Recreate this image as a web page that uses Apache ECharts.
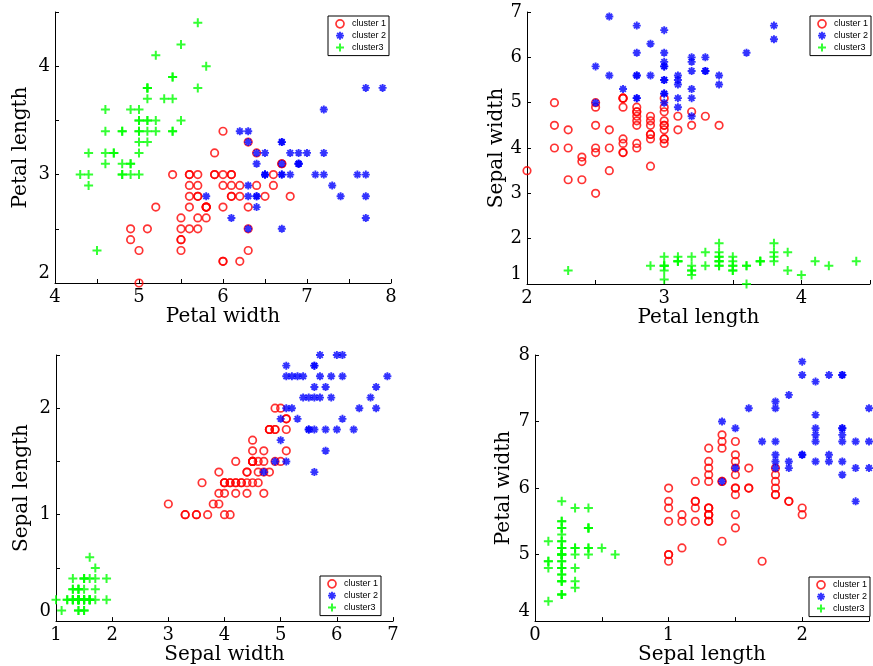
<!DOCTYPE html>
<html>
<head>
<meta charset="utf-8">
<script src="https://cdn.jsdelivr.net/npm/echarts@6/dist/echarts.min.js"></script>
<style>
  html, body { margin: 0; padding: 0; background: #fff; }
  #chart { width: 873px; height: 666px; }
</style>
</head>
<body>
<div id="chart"></div>
<script>
// Fisher iris measurements (150 samples, same row order in every array)
const sepalLength = [
  5.1,4.9,4.7,4.6,5.0,5.4,4.6,5.0,4.4,4.9,5.4,4.8,4.8,4.3,5.8,5.7,5.4,5.1,5.7,5.1,
  5.4,5.1,4.6,5.1,4.8,5.0,5.0,5.2,5.2,4.7,4.8,5.4,5.2,5.5,4.9,5.0,5.5,4.9,4.4,5.1,
  5.0,4.5,4.4,5.0,5.1,4.8,5.1,4.6,5.3,5.0,
  7.0,6.4,6.9,5.5,6.5,5.7,6.3,4.9,6.6,5.2,5.0,5.9,6.0,6.1,5.6,6.7,5.6,5.8,6.2,5.6,
  5.9,6.1,6.3,6.1,6.4,6.6,6.8,6.7,6.0,5.7,5.5,5.5,5.8,6.0,5.4,6.0,6.7,6.3,5.6,5.5,
  5.5,6.1,5.8,5.0,5.6,5.7,5.7,6.2,5.1,5.7,
  6.3,5.8,7.1,6.3,6.5,7.6,4.9,7.3,6.7,7.2,6.5,6.4,6.8,5.7,5.8,6.4,6.5,7.7,7.7,6.0,
  6.9,5.6,7.7,6.3,6.7,7.2,6.2,6.1,6.4,7.2,7.4,7.9,6.4,6.3,6.1,7.7,6.3,6.4,6.0,6.9,
  6.7,6.9,5.8,6.8,6.7,6.7,6.3,6.5,6.2,5.9
];
const sepalWidth = [
  3.5,3.0,3.2,3.1,3.6,3.9,3.4,3.4,2.9,3.1,3.7,3.4,3.0,3.0,4.0,4.4,3.9,3.5,3.8,3.8,
  3.4,3.7,3.6,3.3,3.4,3.0,3.4,3.5,3.4,3.2,3.1,3.4,4.1,4.2,3.1,3.2,3.5,3.6,3.0,3.4,
  3.5,2.3,3.2,3.5,3.8,3.0,3.8,3.2,3.7,3.3,
  3.2,3.2,3.1,2.3,2.8,2.8,3.3,2.4,2.9,2.7,2.0,3.0,2.2,2.9,2.9,3.1,3.0,2.7,2.2,2.5,
  3.2,2.8,2.5,2.8,2.9,3.0,2.8,3.0,2.9,2.6,2.4,2.4,2.7,2.7,3.0,3.4,3.1,2.3,3.0,2.5,
  2.6,3.0,2.6,2.3,2.7,3.0,2.9,2.9,2.5,2.8,
  3.3,2.7,3.0,2.9,3.0,3.0,2.5,2.9,2.5,3.6,3.2,2.7,3.0,2.5,2.8,3.2,3.0,3.8,2.6,2.2,
  3.2,2.8,2.8,2.7,3.3,3.2,2.8,3.0,2.8,3.0,2.8,3.8,2.8,2.8,2.6,3.0,3.4,3.1,3.0,3.1,
  3.1,3.1,2.7,3.2,3.3,3.0,2.5,3.0,3.4,3.0
];
const petalLength = [
  1.4,1.4,1.3,1.5,1.4,1.7,1.4,1.5,1.4,1.5,1.5,1.6,1.4,1.1,1.2,1.5,1.3,1.4,1.7,1.5,
  1.7,1.5,1.0,1.7,1.9,1.6,1.6,1.5,1.4,1.6,1.6,1.5,1.5,1.4,1.5,1.2,1.3,1.4,1.3,1.5,
  1.3,1.3,1.3,1.6,1.9,1.4,1.6,1.4,1.5,1.4,
  4.7,4.5,4.9,4.0,4.6,4.5,4.7,3.3,4.6,3.9,3.5,4.2,4.0,4.7,3.6,4.4,4.5,4.1,4.5,3.9,
  4.8,4.0,4.9,4.7,4.3,4.4,4.8,5.0,4.5,3.5,3.8,3.7,3.9,5.1,4.5,4.5,4.7,4.4,4.1,4.0,
  4.4,4.6,4.0,3.3,4.2,4.2,4.2,4.3,3.0,4.1,
  6.0,5.1,5.9,5.6,5.8,6.6,4.5,6.3,5.8,6.1,5.1,5.3,5.5,5.0,5.1,5.3,5.5,6.7,6.9,5.0,
  5.7,4.9,6.7,4.9,5.7,6.0,4.8,4.9,5.6,5.8,6.1,6.4,5.6,5.1,5.6,6.1,5.6,5.5,4.8,5.4,
  5.6,5.1,5.1,5.9,5.7,5.2,5.0,5.2,5.4,5.1
];
const petalWidth = [
  0.2,0.2,0.2,0.2,0.2,0.4,0.3,0.2,0.2,0.1,0.2,0.2,0.1,0.1,0.2,0.4,0.4,0.3,0.3,0.3,
  0.2,0.4,0.2,0.5,0.2,0.2,0.4,0.2,0.2,0.2,0.2,0.4,0.1,0.2,0.2,0.2,0.2,0.1,0.2,0.2,
  0.3,0.3,0.2,0.6,0.4,0.3,0.2,0.2,0.2,0.2,
  1.4,1.5,1.5,1.3,1.5,1.3,1.6,1.0,1.3,1.4,1.0,1.5,1.0,1.4,1.3,1.4,1.5,1.0,1.5,1.1,
  1.8,1.3,1.5,1.2,1.3,1.4,1.4,1.7,1.5,1.0,1.1,1.0,1.2,1.6,1.5,1.6,1.5,1.3,1.3,1.3,
  1.2,1.4,1.2,1.0,1.3,1.2,1.3,1.3,1.1,1.3,
  2.5,1.9,2.1,1.8,2.2,2.1,1.7,1.8,1.8,2.5,2.0,1.9,2.1,2.0,2.4,2.3,1.8,2.2,2.3,1.5,
  2.3,2.0,2.0,1.8,2.1,1.8,1.8,1.8,2.1,1.6,1.9,2.0,2.2,1.5,1.4,2.3,2.4,1.8,1.8,2.1,
  2.4,2.3,1.9,2.3,2.5,2.3,1.9,2.0,2.3,1.8
];
// k-means cluster of each sample
const clusterId = [
  3,3,3,3,3,3,3,3,3,3,3,3,3,3,3,3,3,3,3,3,3,3,3,3,3,3,3,3,3,3,3,3,3,3,3,3,3,3,3,3,
  3,3,3,3,3,3,3,3,3,3,
  2,1,2,1,1,1,1,1,1,1,1,1,1,1,1,1,1,1,1,1,1,1,1,1,1,1,1,2,1,1,1,1,1,1,1,1,1,1,1,1,
  1,1,1,1,1,1,1,1,1,1,
  2,1,2,2,2,2,1,2,2,2,2,2,2,1,2,2,2,2,2,1,2,1,2,1,2,2,1,1,2,2,2,2,2,2,2,2,2,2,1,2,
  2,2,1,2,2,2,2,2,2,1
];
const clusterNames = ['cluster 1', 'cluster 2', 'cluster3'];

// Axis titles and ranges of the four panels
const xTitles = ['Petal width', 'Petal length', 'Sepal width', 'Sepal length'];
const yTitles = ['Petal length', 'Sepal width', 'Sepal length', 'Petal width'];
const xRanges = [[4, 8, 0.5], [2, 4.5, 0.5], [1, 7, 1], [0, 2.5, 0.5]];
const yRanges = [[2, 4.5, 0.5], [1, 7, 1], [0, 2.5, 0.5], [4, 8, 1]];
const panelX = [sepalLength, sepalWidth, petalLength, petalWidth];
const panelY = [sepalWidth, petalLength, petalWidth, sepalLength];

// Layout
const grids = [
  { left: 55, top: 12, width: 336, height: 271 },
  { left: 527, top: 12, width: 350, height: 272 },
  { left: 56, top: 355, width: 337, height: 270 },
  { left: 535, top: 355, width: 334, height: 270 }
];
const legendPos = [
  { left: 328, top: 16 },
  { left: 810, top: 16 },
  { left: 320, top: 576 },
  { left: 809, top: 577 }
];
const yNameGap = [24, 17, 24, 21];

const SERIF = 'DejaVu Serif';
const markerStyles = [
  { symbol: 'circle', symbolSize: 7.5,
    itemStyle: { color: 'rgba(0,0,0,0)', borderColor: '#ff0000', borderWidth: 1.7 } },
  { symbol: 'path://M5,0L5,10M0,5L10,5M1.5,1.5L8.5,8.5M1.5,8.5L8.5,1.5', symbolSize: 8,
    itemStyle: { color: 'rgba(0,0,0,0)', borderColor: '#0000ff', borderWidth: 1.9 } },
  { symbol: 'path://M5,0L5,10M0,5L10,5', symbolSize: 9,
    itemStyle: { color: 'rgba(0,0,0,0)', borderColor: '#00ff00', borderWidth: 2 } }
];

function isWhole(v) { return Math.abs(v - Math.round(v)) < 1e-9; }

const xAxis = [], yAxis = [], series = [], legend = [];
for (let p = 0; p < 4; p++) {
  const [xmin, xmax, xint] = xRanges[p];
  const [ymin, ymax, yint] = yRanges[p];
  xAxis.push({
    gridIndex: p, type: 'value', min: xmin, max: xmax, interval: xint,
    name: xTitles[p], nameLocation: 'middle', nameGap: 16,
    nameTextStyle: { fontFamily: SERIF, fontSize: 20, color: '#000' },
    axisLine: { show: true, onZero: false, lineStyle: { color: '#000', width: 1 } },
    axisTick: { show: true, inside: true, length: 4, lineStyle: { color: '#000' } },
    axisLabel: {
      margin: 5, fontFamily: SERIF, fontSize: 18, color: '#000',
      showMaxLabel: true, showMinLabel: true,
      formatter: v => isWhole(v) ? String(Math.round(v)) : ''
    },
    splitLine: { show: false }
  });
  yAxis.push({
    gridIndex: p, type: 'value', min: ymin, max: ymax, interval: yint,
    name: yTitles[p], nameLocation: 'middle', nameGap: yNameGap[p],
    nameTextStyle: { fontFamily: SERIF, fontSize: 20, color: '#000' },
    axisLine: { show: true, onZero: false, lineStyle: { color: '#000', width: 1 } },
    axisTick: { show: true, inside: true, length: 4, lineStyle: { color: '#000' } },
    axisLabel: {
      margin: 5, fontFamily: SERIF, fontSize: 18, color: '#000',
      showMaxLabel: true, showMinLabel: true,
      formatter: v => {
        if (!isWhole(v)) return '';
        const s = String(Math.round(v));
        return Math.abs(v - ymin) < 1e-9 ? '{lo|' + s + '}' : s;
      },
      rich: { lo: { fontFamily: SERIF, fontSize: 18, color: '#000', padding: [0, 0, 20, 0] } }
    },
    splitLine: { show: false }
  });
  for (let c = 0; c < 3; c++) {
    const pts = [];
    for (let i = 0; i < clusterId.length; i++) {
      if (clusterId[i] === c + 1) pts.push([panelX[p][i], panelY[p][i]]);
    }
    series.push(Object.assign({
      type: 'scatter', name: clusterNames[c],
      xAxisIndex: p, yAxisIndex: p, clip: false,
      data: pts, z: 2 + c
    }, markerStyles[c]));
  }
  legend.push({
    orient: 'vertical', left: legendPos[p].left, top: legendPos[p].top,
    itemWidth: 14, itemHeight: 8, itemGap: 2, padding: [3, 3, 3, 7],
    borderColor: '#000', borderWidth: 1, backgroundColor: '#fff',
    selectedMode: false, z: 10,
    textStyle: { fontFamily: 'Liberation Sans', fontSize: 9, color: '#000' },
    data: clusterNames.map((n, c) => ({
      name: n, icon: markerStyles[c].symbol, itemStyle: markerStyles[c].itemStyle
    }))
  });
}

const chart = echarts.init(document.getElementById('chart'), null, { renderer: 'canvas' });
chart.setOption({
  animation: false,
  backgroundColor: '#fff',
  grid: grids,
  xAxis: xAxis,
  yAxis: yAxis,
  legend: legend,
  series: series
});
</script>
</body>
</html>
